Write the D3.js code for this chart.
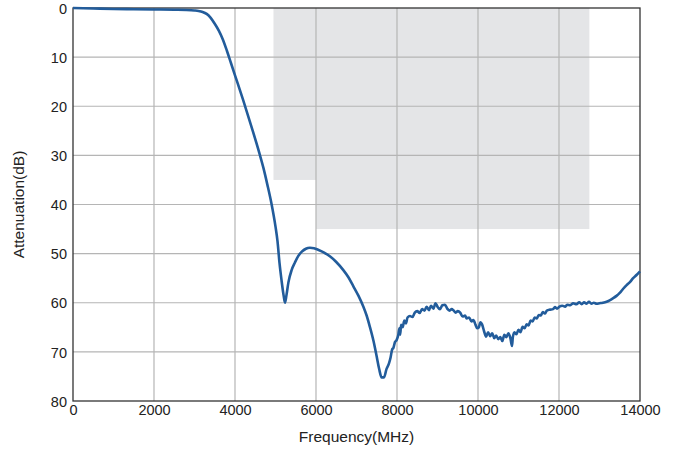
<!DOCTYPE html>
<html><head><meta charset="utf-8">
<script src="https://cdn.jsdelivr.net/npm/d3@7"></script>
<style>body{margin:0;background:#fff}svg{display:block}</style>
</head><body><div id="chart"></div>
<script>
const freqMHz = [0,500,1000,1500,2000,2500,2800,3000,3100,3200,3300,3400,3500,3600,3700,3800,3900,4000,4200,4400,4600,4700,4800,4900,5000,5050,5100,5150,5200,5235,5270,5320,5400,5480,5560,5650,5750,5850,5950,6050,6200,6350,6500,6670,6800,6920,7050,7170,7250,7330,7420,7500,7560,7620,7680,7740,7800,7840,7880,7910,7950,7990,8030,8060,8080,8100,8140,8180,8220,8260,8320,8380,8440,8500,8560,8620,8680,8730,8790,8840,8900,8950,9000,9060,9120,9185,9240,9300,9350,9400,9450,9500,9560,9620,9680,9720,9780,9840,9885,9940,9980,10020,10060,10100,10150,10200,10250,10300,10350,10400,10450,10500,10550,10600,10650,10700,10750,10800,10840,10860,10900,10950,11000,11050,11100,11150,11200,11250,11300,11350,11400,11450,11500,11550,11600,11650,11700,11780,11850,11900,11950,12010,12080,12150,12200,12280,12350,12430,12500,12560,12620,12680,12740,12800,12860,12930,13000,13080,13175,13250,13330,13420,13500,13580,13670,13750,13830,13920,14000];
const attenDB = [0,0.1,0.2,0.25,0.3,0.35,0.4,0.5,0.6,0.8,1.2,2.0,3.2,4.6,6.4,8.7,11.2,13.7,18.7,24,29.5,32.5,36,39.8,44.5,47.5,52,55.5,58.5,60,58.5,55.8,53.3,51.8,50.5,49.6,49.0,48.8,48.9,49.2,49.8,50.6,51.7,53.3,54.8,56.6,58.6,60.8,62.6,64.9,67.8,71,73.5,75.2,75.2,73.5,72.4,71.2,69.5,69.2,68,67.6,66.6,65.2,66.5,64.5,65.0,63.6,64.2,63.0,62.7,62.9,62.0,61.7,62.1,61.3,61.6,60.8,61.5,60.6,61.2,60.1,60.8,61.3,60.5,60.4,61.2,61.6,61.3,61.6,62.0,61.7,62.0,62.8,62.6,63.2,63.0,63.8,63.5,64.5,65.2,65.0,64.0,64.4,65.8,66.9,66.0,66.8,66.2,67.2,66.7,67.4,67.0,67.8,66.5,67.0,66.2,67.2,68.8,67.0,66.0,66.4,65.5,66.0,64.9,65.2,64.4,64.6,63.6,63.8,63.0,63.2,62.5,62.6,61.9,62.2,61.6,61.4,61.3,60.9,61.2,60.8,60.6,60.8,60.4,60.5,60.1,60.3,59.9,60.3,59.9,60.2,59.8,60.2,60.0,60.2,60.1,60.0,59.8,59.5,59.1,58.6,58.0,57.2,56.4,55.8,55.0,54.3,53.6];
const maskX0 = [4950, 6000];
const maskX1 = [6000, 12750];
const maskDepth = [35, 45];
const xTicks = [0,2000,4000,6000,8000,10000,12000,14000];
const yTicks = [0,10,20,30,40,50,60,70,80];

const W = 682, H = 455;
const m = {left:73, right:42, top:8, bottom:54};
const svg = d3.select("#chart").append("svg").attr("width",W).attr("height",H);
const x = d3.scaleLinear().domain([0,14000]).range([m.left, W-m.right]);
const y = d3.scaleLinear().domain([0,80]).range([m.top, H-m.bottom]);
const font = "'Liberation Sans', Arial, Helvetica, sans-serif";

svg.append("g").selectAll("rect").data(maskX0).join("rect")
  .attr("x",(d)=>x(d)).attr("y",y(0))
  .attr("width",(d,i)=>x(maskX1[i])-x(d))
  .attr("height",(d,i)=>y(maskDepth[i])-y(0))
  .attr("fill","#e4e5e7");

svg.append("g").selectAll("line").data(xTicks.slice(1,-1)).join("line")
  .attr("x1",d=>x(d)).attr("x2",d=>x(d)).attr("y1",y(0)).attr("y2",y(80))
  .attr("stroke","#b5b5b5").attr("stroke-width",1.2);
svg.append("g").selectAll("line").data(yTicks.slice(1,-1)).join("line")
  .attr("y1",d=>y(d)).attr("y2",d=>y(d)).attr("x1",x(0)).attr("x2",x(14000))
  .attr("stroke","#b5b5b5").attr("stroke-width",1.2);

svg.append("rect").attr("x",x(0)).attr("y",y(0)).attr("width",x(14000)-x(0)).attr("height",y(80)-y(0))
  .attr("fill","none").attr("stroke","#333").attr("stroke-width",1.3);

const xAxis = svg.append("g").attr("transform",`translate(0,${y(80)})`)
  .call(d3.axisBottom(x).tickValues(xTicks).tickSize(0).tickPadding(4).tickFormat(d3.format("d")));
const yAxis = svg.append("g").attr("transform",`translate(${x(0)},0)`)
  .call(d3.axisLeft(y).tickValues(yTicks).tickSize(0).tickPadding(6));
[xAxis,yAxis].forEach(g=>{
  g.select(".domain").remove();
  g.selectAll("text").attr("font-family",font).attr("font-size",14.5).attr("fill","#222");
});
yAxis.selectAll("text").attr("dy","0.36em");

const pts = freqMHz.map((f,i)=>[f,attenDB[i]]);
svg.append("path").datum(pts)
  .attr("d", d3.line().x(d=>x(d[0])).y(d=>y(d[1])).curve(d3.curveMonotoneX))
  .attr("fill","none").attr("stroke","#225c9b").attr("stroke-width",2.6).attr("stroke-linejoin","round");

svg.append("text").attr("x",(x(0)+x(14000))/2).attr("y",442).attr("text-anchor","middle")
  .attr("font-family",font).attr("font-size",15.5).attr("fill","#222").text("Frequency(MHz)");
svg.append("text").attr("transform",`translate(24,${(y(0)+y(80))/2}) rotate(-90)`).attr("text-anchor","middle")
  .attr("font-family",font).attr("font-size",15.5).attr("fill","#222").text("Attenuation(dB)");
</script></body></html>
